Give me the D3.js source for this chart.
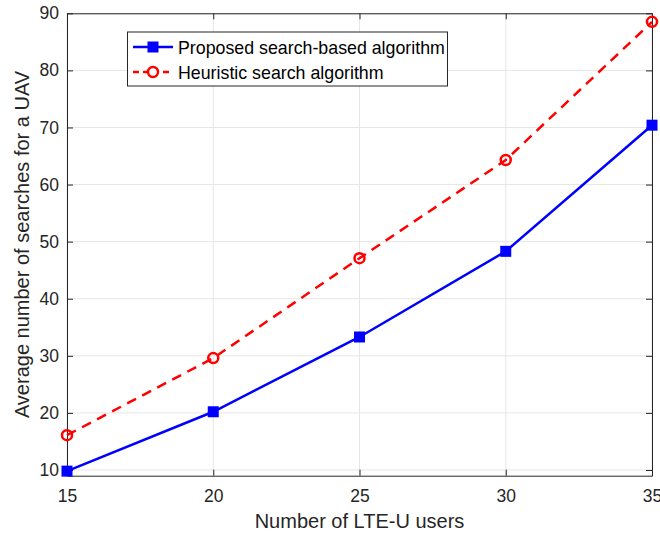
<!DOCTYPE html>
<html>
<head>
<meta charset="utf-8">
<script src="https://cdn.jsdelivr.net/npm/d3@7"></script>
<style>
  html, body { margin: 0; padding: 0; background: #fff; }
  text { font-family: "Liberation Sans", Arial, Helvetica, sans-serif; }
</style>
</head>
<body>
<svg id="chart" width="660" height="533"></svg>
<script>
// Number of LTE-U users
const users = [15, 20, 25, 30, 35];
// Average number of searches per UAV
const proposed = [9.8, 20.2, 33.3, 48.3, 70.4];
const heuristic = [16.1, 29.6, 47.1, 64.3, 88.5];
const xTicks = [15, 20, 25, 30, 35];
const yTicks = [10, 20, 30, 40, 50, 60, 70, 80, 90];

const svg = d3.select("#chart");
const plotL = 67, plotR = 652, plotT = 13.3, plotB = 475.7;
const x = d3.scaleLinear().domain([15, 35]).range([plotL, plotR]);
const y = d3.scaleLinear().domain([9, 90]).range([plotB, plotT]);
const axisColor = "#262626";
const tickFont = 17.5;

// grid
const grid = svg.append("g");
grid.selectAll("line.gx").data(xTicks).join("line")
  .attr("x1", d => x(d)).attr("x2", d => x(d))
  .attr("y1", plotT).attr("y2", plotB)
  .attr("stroke", "#e6e6e6").attr("stroke-width", 1);
grid.selectAll("line.gy").data(yTicks).join("line")
  .attr("x1", plotL).attr("x2", plotR)
  .attr("y1", d => y(d)).attr("y2", d => y(d))
  .attr("stroke", "#e6e6e6").attr("stroke-width", 1);

// axes (ticks drawn inward, mirrored on top/right)
const tl = 6;
const xb = svg.append("g").attr("transform", `translate(0,${plotB})`)
  .call(d3.axisBottom(x).tickValues(xTicks).tickSizeInner(-tl).tickSizeOuter(0).tickPadding(14));
const xt = svg.append("g").attr("transform", `translate(0,${plotT})`)
  .call(d3.axisTop(x).tickValues(xTicks).tickSizeInner(-tl).tickSizeOuter(0).tickFormat(""));
const yl = svg.append("g").attr("transform", `translate(${plotL},0)`)
  .call(d3.axisLeft(y).tickValues(yTicks).tickSizeInner(-tl).tickSizeOuter(0).tickPadding(8));
const yr = svg.append("g").attr("transform", `translate(${plotR},0)`)
  .call(d3.axisRight(y).tickValues(yTicks).tickSizeInner(-tl).tickSizeOuter(0).tickFormat(""));
[xb, xt, yl, yr].forEach(g => {
  g.select(".domain").attr("stroke", axisColor).attr("stroke-width", 1);
  g.selectAll(".tick line").attr("stroke", axisColor).attr("stroke-width", 1);
  g.selectAll(".tick text").attr("fill", axisColor).attr("font-size", tickFont)
    .style("font-family", "Liberation Sans, Arial, sans-serif");
});
// x tick labels: baseline just under the axis
xb.selectAll(".tick text").attr("y", 26.5).attr("dy", null);

// axis labels
svg.append("text").attr("x", (plotL + plotR) / 2).attr("y", 528)
  .attr("text-anchor", "middle").attr("font-size", 20).attr("fill", axisColor)
  .text("Number of LTE-U users");
svg.append("text").attr("transform", `translate(29,${(plotT + plotB) / 2}) rotate(-90)`)
  .attr("text-anchor", "middle").attr("font-size", 20).attr("fill", axisColor)
  .text("Average number of searches for a UAV");

const line = d3.line().x((d, i) => x(users[i])).y(d => y(d));

// heuristic series
svg.append("path").datum(heuristic).attr("d", line)
  .attr("fill", "none").attr("stroke", "#ff0000").attr("stroke-width", 2.5)
  .attr("stroke-dasharray", "10,7");
svg.selectAll("circle.h").data(heuristic).join("circle")
  .attr("cx", (d, i) => x(users[i])).attr("cy", d => y(d)).attr("r", 5)
  .attr("fill", "none").attr("stroke", "#ff0000").attr("stroke-width", 2.5);

// proposed series
svg.append("path").datum(proposed).attr("d", line)
  .attr("fill", "none").attr("stroke", "#0000ff").attr("stroke-width", 2.5);
const s = 11;
svg.selectAll("rect.p").data(proposed).join("rect")
  .attr("x", (d, i) => x(users[i]) - s / 2).attr("y", d => y(d) - s / 2)
  .attr("width", s).attr("height", s).attr("fill", "#0000ff");

// legend
const lg = svg.append("g");
lg.append("rect").attr("x", 127.5).attr("y", 32).attr("width", 320).attr("height", 54)
  .attr("fill", "#fff").attr("stroke", axisColor).attr("stroke-width", 1);
const items = [
  { label: "Proposed search-based algorithm", color: "#0000ff", dash: null, marker: "square", yy: 47 },
  { label: "Heuristic search algorithm", color: "#ff0000", dash: "6,4", marker: "circle", yy: 72 }
];
items.forEach(it => {
  lg.append("line").attr("x1", 133).attr("x2", 173).attr("y1", it.yy).attr("y2", it.yy)
    .attr("stroke", it.color).attr("stroke-width", 2.5)
    .attr("stroke-dasharray", it.dash);
  if (it.marker === "square") {
    lg.append("rect").attr("x", 153 - s / 2).attr("y", it.yy - s / 2)
      .attr("width", s).attr("height", s).attr("fill", it.color);
  } else {
    lg.append("circle").attr("cx", 153).attr("cy", it.yy).attr("r", 5)
      .attr("fill", "#fff").attr("stroke", it.color).attr("stroke-width", 2.5);
  }
  lg.append("text").attr("x", 178).attr("y", it.yy + 6.5).attr("font-size", 17.8)
    .attr("fill", "#000").text(it.label);
});
</script>
</body>
</html>
